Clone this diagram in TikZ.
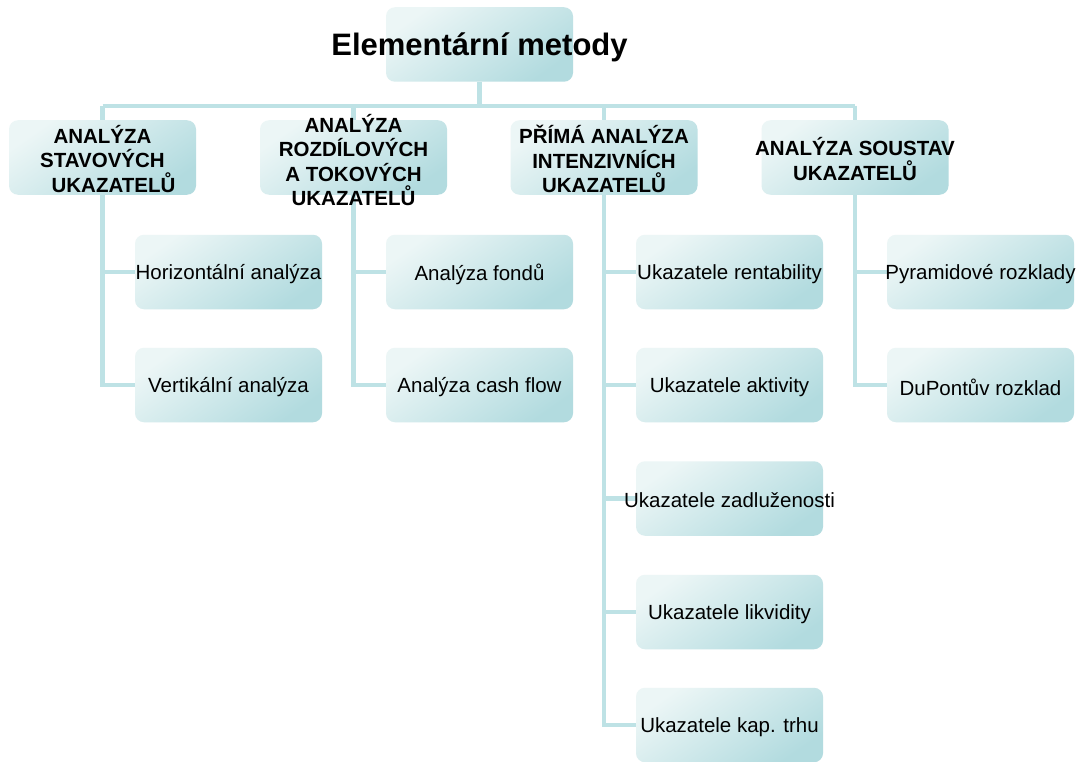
\documentclass[tikz,border=0pt]{standalone}
\usepackage{fontspec}
\setmainfont{Liberation Sans}
\definecolor{boxlight}{RGB}{236,246,246}
\definecolor{boxdark}{RGB}{178,219,223}
\definecolor{linec}{RGB}{190,226,229}
\pgfdeclarelayer{back}
\pgfdeclarelayer{bg}
\pgfsetlayers{back,bg,main}
\tikzset{
  box/.style={rectangle, rounded corners=9pt, minimum width=187pt, minimum height=74.5pt,
    inner sep=0pt, draw=none, top color=boxlight, bottom color=boxdark, shading angle=35},
  headtxt/.style={font=\fontsize{20.5}{24.6}\selectfont\bfseries, align=center, inner sep=0pt, yshift=-1.5pt},
  leaftxt/.style={font=\fontsize{20.5}{24.6}\selectfont, align=center, inner sep=0pt, yshift=-2pt},
  toptxt/.style={font=\fontsize{31}{36}\selectfont\bfseries, inner sep=0pt, yshift=-2.5pt},
  conn/.style={draw=linec, line width=4.5pt}
}
\begin{document}
\begin{tikzpicture}[x=1pt,y=-1pt]
\begin{pgfonlayer}{back}
\fill[white] (0,0) rectangle (1083,762);
\end{pgfonlayer}
\useasboundingbox (0,0) rectangle (1083,762);
% top
\node[box] (top) at (479.5,44.5) {};
\node[toptxt] (toptext) at (top.center) {Elementární metody};
% level 1
\node[box] (b1) at (102.5,157.5) {};
\node[box] (b2) at (353.5,157.5) {};
\node[box] (b3) at (604,157.5) {};
\node[box] (b4) at (855,157.5) {};
\node[headtxt] (t1) at (b1.center) {ANALÝZA\\STAVOVÝCH\\\hspace*{22pt}UKAZATELŮ};
\node[headtxt] (t2) at ([yshift=-1pt]b2.center) {ANALÝZA\\ROZDÍLOVÝCH\\A TOKOVÝCH\\UKAZATELŮ};
\node[headtxt] (t3) at (b3.center) {PŘÍMÁ ANALÝZA\\INTENZIVNÍCH\\UKAZATELŮ};
\node[headtxt] (t4) at (b4.center) {ANALÝZA SOUSTAV\\UKAZATELŮ};
% children col 1
\node[box] (c11) at (228.5,272) {};
\node[box] (c12) at (228.5,385) {};
\node[leaftxt] at (c11.center) {Horizontální analýza};
\node[leaftxt] at (c12.center) {Vertikální analýza};
% col 2
\node[box] (c21) at (479.5,272) {};
\node[box] (c22) at (479.5,385) {};
\node[leaftxt] at (c21.center) {Analýza fondů};
\node[leaftxt] at (c22.center) {Analýza cash flow};
% col 3
\node[box] (c31) at (729.5,272) {};
\node[box] (c32) at (729.5,385) {};
\node[box] (c33) at (729.5,498.5) {};
\node[box] (c34) at (729.5,612) {};
\node[box] (c35) at (729.5,725) {};
\node[leaftxt] at (c31.center) {Ukazatele rentability};
\node[leaftxt] at (c32.center) {Ukazatele aktivity};
\node[leaftxt] at (c33.center) {Ukazatele zadluženosti};
\node[leaftxt] at (c34.center) {Ukazatele likvidity};
\node[leaftxt] at (c35.center) {Ukazatele kap. trhu};
% col 4
\node[box] (c41) at (980.5,272) {};
\node[box] (c42) at (980.5,385) {};
\node[leaftxt] at (c41.center) {Pyramidové rozklady};
\node[leaftxt] at (c42.center) {DuPontův rozklad};
% connectors
\coordinate (bus) at (479.5,106);
\begin{pgfonlayer}{bg}
\draw[conn] (top.south) -- (bus);
\draw[conn] (b1.north |- bus) -- (b4.north |- bus);
\foreach \b in {b1,b2,b3,b4} { \draw[conn] (\b.north |- bus) -- (\b.north); }
\draw[conn] (b1.south) -- (b1.south |- c12.west) -- (c12.west);
\draw[conn] (b1.south |- c11.west) -- (c11.west);
\draw[conn] (b2.south) -- (b2.south |- c22.west) -- (c22.west);
\draw[conn] (b2.south |- c21.west) -- (c21.west);
\draw[conn] (b3.south) -- (b3.south |- c35.west) -- (c35.west);
\foreach \c in {c31,c32,c33,c34} { \draw[conn] (b3.south |- \c.west) -- (\c.west); }
\draw[conn] (b4.south) -- (b4.south |- c42.west) -- (c42.west);
\draw[conn] (b4.south |- c41.west) -- (c41.west);
\end{pgfonlayer}
\end{tikzpicture}
\end{document}
